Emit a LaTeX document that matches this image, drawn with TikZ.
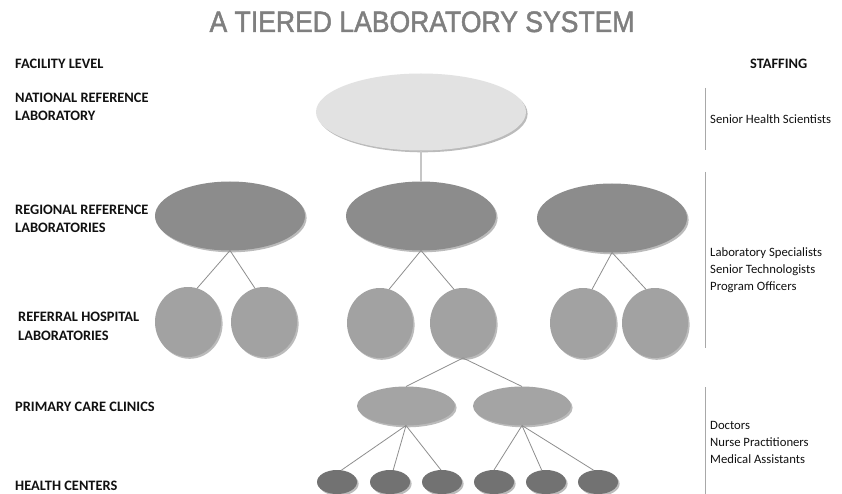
\documentclass[tikz,border=0pt]{standalone}
\usepackage{fontspec}
\setmainfont{Carlito}
\newfontfamily\titlefont[FakeStretch=0.9,FakeBold=1.6]{Liberation Sans}
\usetikzlibrary{shapes.geometric,shadows}
\definecolor{natfill}{HTML}{E2E2E2}
\definecolor{regfill}{HTML}{8C8C8C}
\definecolor{reffill}{HTML}{A2A2A2}
\definecolor{pcfill}{HTML}{A4A4A4}
\definecolor{hcfill}{HTML}{727272}
\definecolor{shadowgray}{HTML}{BBBBBB}
\definecolor{linegray}{HTML}{8E8E8E}
\definecolor{natline}{HTML}{C6C6C6}
\definecolor{titlegray}{HTML}{7F7F7F}
\definecolor{rulegray}{HTML}{A8A8A8}
\definecolor{labelblack}{HTML}{111111}
\begin{document}
\begin{tikzpicture}[x=1pt,y=-1pt,
  blob/.style={ellipse, draw=none, inner sep=0pt, outer sep=0pt,
    drop shadow={shadow xshift=1.6pt, shadow yshift=-1.8pt, fill=shadowgray, opacity=1}},
  natnode/.style={blob, fill=natfill, minimum width=210pt, minimum height=77pt},
  regnode/.style={blob, fill=regfill, minimum width=150pt, minimum height=69pt},
  refnode/.style={blob, fill=reffill, minimum width=66pt, minimum height=70pt},
  pcnode/.style={blob, fill=pcfill, minimum width=98pt, minimum height=39pt},
  hcnode/.style={blob, fill=hcfill, minimum width=40pt, minimum height=24pt},
  link/.style={draw=linegray, line width=0.8pt},
  toplink/.style={draw=natline, line width=1.6pt},
  staffrule/.style={draw=rulegray, line width=0.8pt},
  level/.style={anchor=base west, inner sep=0pt, font=\fontsize{14.4}{18.5}\selectfont\bfseries, text=labelblack, align=left},
  staff/.style={anchor=base west, inner sep=0pt, font=\fontsize{12.7}{17}\selectfont, text=labelblack, align=left},
  titletext/.style={anchor=base, inner sep=0pt, font=\titlefont\fontsize{29.5}{31}\selectfont, text=titlegray}
]
\useasboundingbox[fill=white] (0,0) rectangle (842,494);

% title
\node[titletext] (title) at (422,32) {A TIERED LABORATORY SYSTEM};

% column headings
\node[level] (hfac) at (15,69) {FACILITY LEVEL};
\node[level] (hstaff) at (750,69) {STAFFING};

% level labels (base = last line)
\node[level] (lnat) at (15,121) {NATIONAL REFERENCE\\LABORATORY};
\node[level] (lreg) at (15,233) {REGIONAL REFERENCE\\LABORATORIES};
\node[level] (lref) at (18,340) {REFERRAL HOSPITAL\\LABORATORIES};
\node[level] (lpc) at (15,411) {PRIMARY CARE CLINICS};
\node[level] (lhc) at (15,490) {HEALTH CENTERS};

% staffing
\coordinate (r1a) at (705,88);  \coordinate (r1b) at (705,150);
\coordinate (r2a) at (705,172); \coordinate (r2b) at (705,348);
\coordinate (r3a) at (705,387); \coordinate (r3b) at (705,494);
\draw[staffrule] (r1a) -- (r1b);
\draw[staffrule] (r2a) -- (r2b);
\draw[staffrule] (r3a) -- (r3b);
\node[staff] (s1) at (710,124) {Senior Health Scientists};
\node[staff] (s2) at (710,290) {Laboratory Specialists\\Senior Technologists\\Program Officers};
\node[staff] (s3) at (710,463) {Doctors\\Nurse Practitioners\\Medical Assistants};

% hierarchy
\node[natnode] (nat) at (421,112) {};
\node[regnode] (reg1) at (230,216) {};
\node[regnode] (reg2) at (421,216) {};
\node[regnode] (reg3) at (612,218) {};

\node[refnode] (c1) at (188,322) {};
\node[refnode] (c2) at (264,322) {};
\node[refnode] (c3) at (380,323) {};
\node[refnode] (c4) at (463,323) {};
\node[refnode] (c5) at (583,323) {};
\node[refnode] (c6) at (655,323) {};

\node[pcnode] (pc1) at (406,406) {};
\node[pcnode] (pc2) at (522,406) {};

\node[hcnode] (hc1) at (337,482) {};
\node[hcnode] (hc2) at (390,482) {};
\node[hcnode] (hc3) at (442,482) {};
\node[hcnode] (hc4) at (494,482) {};
\node[hcnode] (hc5) at (546,482) {};
\node[hcnode] (hc6) at (598,482) {};

% connectors
\draw[toplink] (nat.south) -- (reg2.north);
\draw[link] (reg1.south) -- (c1.75);
\draw[link] (reg1.south) -- (c2.105);
\draw[link] (reg2.south) -- (c3.75);
\draw[link] (reg2.south) -- (c4.105);
\draw[link] (reg3.south) -- (c5.75);
\draw[link] (reg3.south) -- (c6.105);
\draw[link] (c4.south) -- (pc1.north);
\draw[link] (c4.south) -- (pc2.north);
\draw[link] (pc1.south) -- (hc1.70);
\draw[link] (pc1.south) -- (hc2.75);
\draw[link] (pc1.south) -- (hc3.95);
\draw[link] (pc2.south) -- (hc4.90);
\draw[link] (pc2.south) -- (hc5.110);
\draw[link] (pc2.south) -- (hc6.110);
\end{tikzpicture}
\end{document}
